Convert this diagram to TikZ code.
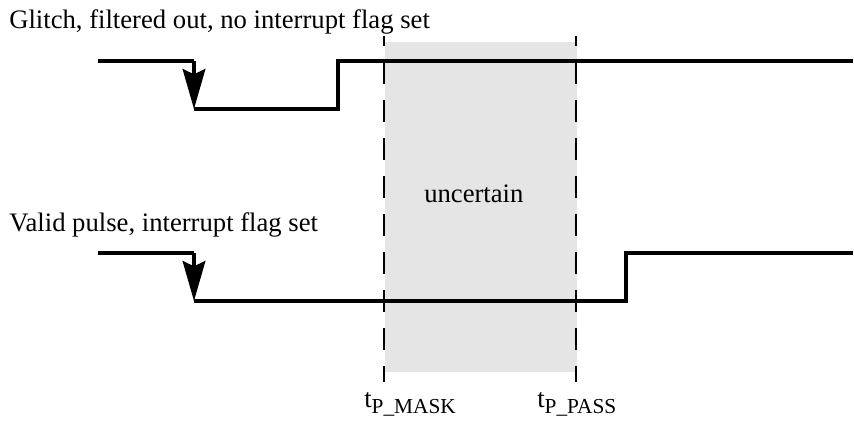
\documentclass[tikz,border=0pt]{standalone}
\usepackage{fontspec}
\setmainfont{Liberation Serif}
\usetikzlibrary{arrows.meta}

\begin{document}
\begin{tikzpicture}[x=0.75pt,y=-0.75pt]
    \pgfmathsetmacro{\leftx}{98}
    \pgfmathsetmacro{\rightx}{853}
    \pgfmathsetmacro{\fallx}{194}
    \pgfmathsetmacro{\maskx}{384}
    \pgfmathsetmacro{\passx}{576}
    \providecommand{\labelfontsize}{\fontsize{20pt}{23pt}\selectfont}
    \providecommand{\subfontsize}{\fontsize{16pt}{18pt}\selectfont}
    \tikzset{
        wave/.style={line width=2.5pt,line join=miter},
        fallarrow/.style={line width=2.5pt,-{Stealth[length=30pt,width=17pt,inset=4pt]}},
        marker/.style={line width=1.5pt,dash pattern=on 16.5pt off 12pt,dash phase=9pt},
        caption/.style={anchor=base west,inner sep=0,font=\labelfontsize}
    }
    \useasboundingbox (0,0) rectangle (854,425);
    % uncertain window
    \fill[gray!20] (385,42) rectangle (577,372);
    \draw[marker] (\maskx,36) -- (\maskx,382);
    \draw[marker] (\passx,36) -- (\passx,382);
    % glitch
    \draw[wave] (\leftx,61) -- (\fallx,61);
    \draw[fallarrow] (\fallx,61) -- (\fallx,109);
    \draw[wave] (\fallx,109) -- (338,109) -- (338,61) -- (\rightx,61);
    % valid pulse
    \draw[wave] (\leftx,253) -- (\fallx,253);
    \draw[fallarrow] (\fallx,253) -- (\fallx,301);
    \draw[wave] (\fallx,301) -- (626,301) -- (626,253) -- (\rightx,253);
    % texts
    \node[caption] (glitch) at (9,28) {Glitch, filtered out, no interrupt flag set};
    \node[caption] (valid) at (9,231) {Valid pulse, interrupt flag set};
    \node[caption] (uncertain) at (424,202) {uncertain};
    \node[caption] (tmask) at (364,407) {t\raisebox{-5pt}{\subfontsize P\_MASK}};
    \node[caption] (tpass) at (537,407) {t\raisebox{-5pt}{\subfontsize P\_PASS}};
\end{tikzpicture}
\end{document}
